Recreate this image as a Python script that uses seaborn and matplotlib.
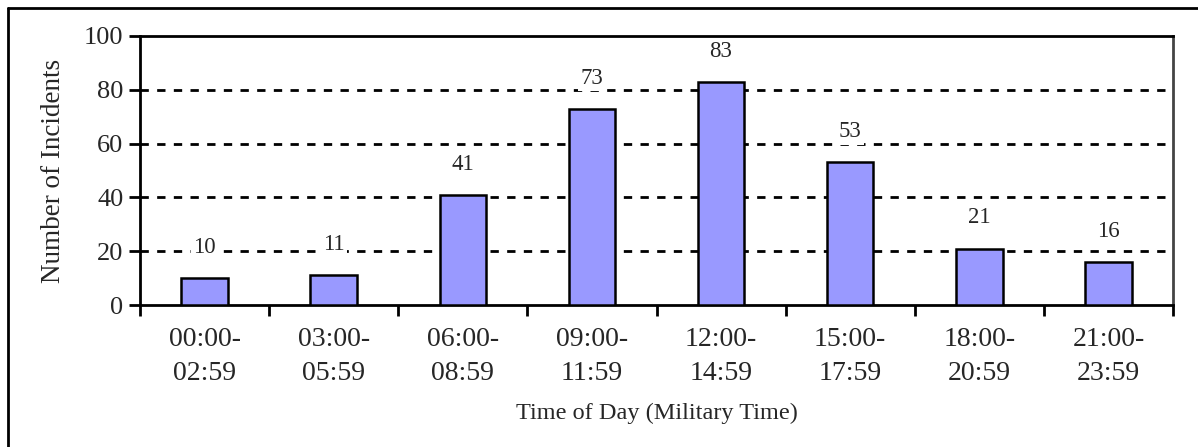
import matplotlib
matplotlib.use("Agg")
import matplotlib.pyplot as plt
import seaborn as sns
import pandas as pd
from matplotlib.lines import Line2D

categories = ["00:00-\n02:59", "03:00-\n05:59", "06:00-\n08:59", "09:00-\n11:59",
              "12:00-\n14:59", "15:00-\n17:59", "18:00-\n20:59", "21:00-\n23:59"]
incidents = [10, 11, 41, 73, 83, 53, 21, 16]
y_ticks = [0, 20, 40, 60, 80, 100]

df = pd.DataFrame({"time": categories, "count": incidents})

sns.set_theme(style="white")
plt.rcParams["font.family"] = ["Liberation Serif", "DejaVu Serif"]

W, H = 1198, 447
fig = plt.figure(figsize=(W / 100, H / 100), dpi=100)
ax = fig.add_axes([140 / W, 1 - 305 / H, (1173 - 140) / W, (305 - 36) / H])

sns.barplot(data=df, x="time", y="count", ax=ax, color="#9999FF", saturation=1,
            width=0.36, edgecolor="black", linewidth=1.8, zorder=3)

ax.set_ylim(0, 100)
ax.set_xlim(-0.5, len(categories) - 0.5)
ax.set_yticks(y_ticks)
ax.set_yticklabels([str(v) for v in y_ticks], fontsize=19)
for v in y_ticks[1:-1]:
    ax.axhline(v, color="black", linestyle=(0, (3, 3)), linewidth=2, zorder=1)

# x ticks at category boundaries, labels centered
ax.set_xticks([i - 0.5 for i in range(len(categories) + 1)])
ax.set_xticklabels([""] * (len(categories) + 1))
ax.set_xticks(range(len(categories)), minor=True)
ax.set_xticklabels(categories, minor=True, fontsize=20, linespacing=1.45)
ax.tick_params(axis="x", which="minor", length=0, pad=16)
ax.tick_params(axis="x", which="major", direction="out", length=8, width=2, color="black", bottom=True)
ax.tick_params(axis="y", direction="out", length=8, width=2, color="black", left=True, pad=4)

for s in ax.spines.values():
    s.set_visible(True)
    s.set_color("black")
    s.set_linewidth(2)
ax.spines["right"].set_color("#444444")

ax.set_xlabel("Time of Day (Military Time)", fontsize=17.5, labelpad=12)
ax.set_ylabel("Number of Incidents", fontsize=19.5, labelpad=13)

for i, v in enumerate(incidents):
    ax.annotate(str(v), (i, v), xytext=(0, 22), textcoords="offset points",
                ha="center", va="center", fontsize=16.5, zorder=5,
                bbox=dict(boxstyle="square,pad=0.1", facecolor="white", edgecolor="none"))

# outer figure frame (left and top visible)
fig.add_artist(Line2D([8 / W, 8 / W], [0, 1 - 8 / H], transform=fig.transFigure, color="black", linewidth=2))
fig.add_artist(Line2D([8 / W, 1], [1 - 8 / H, 1 - 8 / H], transform=fig.transFigure, color="black", linewidth=2))

fig.savefig("out.png", dpi=100)
